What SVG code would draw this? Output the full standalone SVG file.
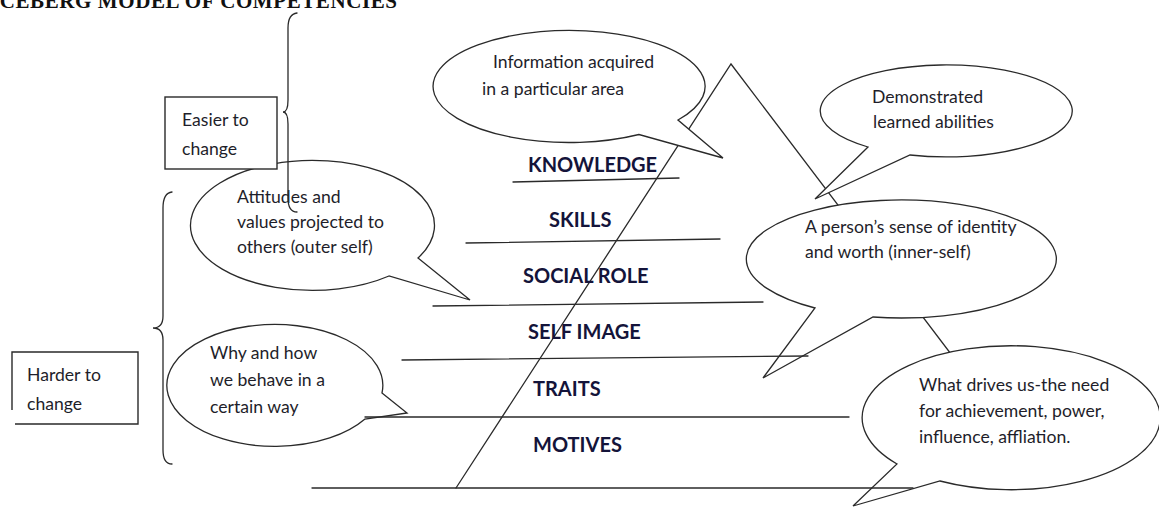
<svg xmlns="http://www.w3.org/2000/svg" width="1159" height="507" viewBox="0 0 1159 507">
<style>
.ln{stroke:#2a2a2a;stroke-width:1.3;fill:none;stroke-linecap:round}
.bub{stroke:#2a2a2a;stroke-width:1.3;fill:#fff;stroke-linejoin:miter}
.box{stroke:#2a2a2a;stroke-width:1.4;fill:#fff}
.t{font-family:Lato,"Noto Sans",sans-serif;font-size:17.6px;fill:#1e1e2a}
.lab{font-family:Lato,"Noto Sans",sans-serif;font-size:20px;font-weight:bold;fill:#14143a}
.title{font-family:"Liberation Serif",serif;font-size:21px;font-weight:bold;fill:#111}
</style>
<rect width="1159" height="507" fill="#fff"/>
<text class="title" x="-9" y="8" textLength="406">ICEBERG MODEL OF COMPETENCIES</text>
<g id="triangle">
<path class="ln" d="M456,488 L731,64 L1001,420"/>
</g>
<g id="bubble-knowledge">
<path class="bub" d="M639,134.5 A136 56 0 1 1 678,120 L723,158 Z"/>
<text class="t" x="493" y="68">Information acquired</text>
<text class="t" x="482" y="95">in a particular area</text>
</g>
<g id="bubble-skills">
<path class="bub" d="M868,147 A126 46 0 1 1 910,155 L815,199 Z"/>
<text class="t" x="872" y="103">Demonstrated</text>
<text class="t" x="873" y="128">learned abilities</text>
</g>
<g id="bubble-selfimage">
<path class="bub" d="M815,308 A155 59 0 1 1 873,317 L763,378 Z"/>
<text class="t" x="805" y="233">A person’s sense of identity</text>
<text class="t" x="805" y="258">and worth (inner-self)</text>
</g>
<g id="bubble-motives">
<path class="bub" d="M897,464 A149 72 0 1 1 940,481 L853,506 Z"/>
<text class="t" x="919" y="391">What drives us-the need</text>
<text class="t" x="919" y="417">for achievement, power,</text>
<text class="t" x="919" y="443">influence, affliation.</text>
</g>
<g id="bubble-traits">
<path class="bub" d="M365,419 A108 61 0 1 1 382,393 L407,413 Z"/>
<text class="t" x="210" y="359">Why and how</text>
<text class="t" x="210" y="386">we behave in a</text>
<text class="t" x="210" y="413">certain way</text>
</g>
<g id="bubble-socialrole">
<path class="bub" d="M389,276 A122 65 0 1 1 418,258 L470,300 Z"/>
<text class="t" x="237" y="203">Attitudes and</text>
<text class="t" x="237" y="228">values projected to</text>
<text class="t" x="237" y="253">others (outer self)</text>
</g>
<g id="connectors">
<path class="ln" d="M513,182 L679,178"/>
<path class="ln" d="M466,243 L720,239"/>
<path class="ln" d="M433,306 L763,302"/>
<path class="ln" d="M402,360 L808,356"/>
<path class="ln" d="M365,417 L849,417"/>
<path class="ln" d="M312,488 L913,488"/>
</g>
<g id="labels">
<text class="lab" x="528" y="172">KNOWLEDGE</text>
<text class="lab" x="549" y="227">SKILLS</text>
<text class="lab" x="523" y="283">SOCIAL ROLE</text>
<text class="lab" x="528" y="339">SELF IMAGE</text>
<text class="lab" x="533" y="396">TRAITS</text>
<text class="lab" x="533" y="452">MOTIVES</text>
</g>
<g id="box-easier">
<rect class="box" x="165" y="97" width="112" height="72"/>
<text class="t" x="182" y="126">Easier to</text>
<text class="t" x="182" y="155">change</text>
</g>
<g id="brace-easier">
<path class="ln" d="M297,13 Q288,14 288,28 V100 Q288,112 283,112 Q288,112 288,124 V198 Q288,212 297,212"/>
</g>
<g id="box-harder">
<path class="box" d="M12,410 V352 H138 V424 H15"/>
<text class="t" x="27" y="381">Harder to</text>
<text class="t" x="27" y="410">change</text>
</g>
<g id="brace-harder">
<path class="ln" d="M172,192 Q163,193 163,208 V316 Q163,328 153,328 Q163,328 163,340 V450 Q163,464 172,464"/>
</g>
</svg>
